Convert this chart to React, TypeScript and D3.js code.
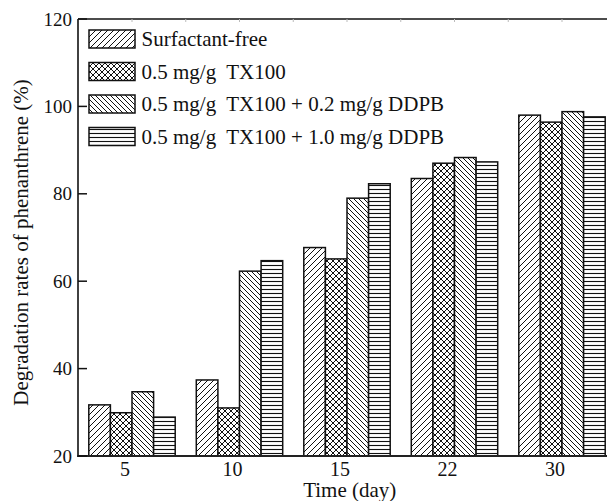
import React from 'react';
import * as d3 from 'd3';

const categories = ['5', '10', '15', '22', '30'];
const seriesNames = [
  'Surfactant-free',
  '0.5 mg/g  TX100',
  '0.5 mg/g  TX100 + 0.2 mg/g DDPB',
  '0.5 mg/g  TX100 + 1.0 mg/g DDPB',
];
const surfactantFree = [31.7, 37.4, 67.7, 83.5, 98.0];
const tx100 = [29.9, 31.0, 65.1, 87.0, 96.4];
const tx100Ddpb02 = [34.7, 62.3, 79.0, 88.3, 98.8];
const tx100Ddpb10 = [28.9, 64.7, 82.3, 87.3, 97.6];
const yTicks = [20, 40, 60, 80, 100, 120];

const seriesValues = [surfactantFree, tx100, tx100Ddpb02, tx100Ddpb10];
const patternIds = ['pSlash', 'pCross', 'pBack', 'pHoriz'];

const W = 607;
const H = 501;
const left = 78;
const right = 607;
const top = 19;
const bottom = 456;
const fontStyle = { fontFamily: 'Liberation Serif', whiteSpace: 'pre' as const };

export default function App() {
  const x = d3.scaleBand<string>().domain(categories).range([78.25, 615.75]).padding(0);
  const xs = d3.scaleBand<string>().domain(seriesNames).range([-43.2, 43.2]).padding(0);
  const y = d3.scaleLinear().domain([20, 120]).range([bottom, top]);
  const topTicks = d3.range(1, 10).map((k) => 78.25 + k * (x.step() / 2));

  return (
    <svg
      width={W}
      height={H}
      style={{ position: 'absolute', left: 0, top: 0, background: '#fff', fontFamily: 'Liberation Serif' }}
    >
      <defs>
        <pattern id="pSlash" patternUnits="userSpaceOnUse" width="6" height="6">
          <rect width="6" height="6" fill="#fff" />
          <path d="M-1,1 l2,-2 M0,6 l6,-6 M5,7 l2,-2" stroke="#111" strokeWidth="1" />
        </pattern>
        <pattern id="pCross" patternUnits="userSpaceOnUse" width="6" height="6">
          <rect width="6" height="6" fill="#fff" />
          <path d="M-1,1 l2,-2 M0,6 l6,-6 M5,7 l2,-2 M-1,5 l2,2 M0,0 l6,6 M5,-1 l2,2" stroke="#111" strokeWidth="1" />
        </pattern>
        <pattern id="pBack" patternUnits="userSpaceOnUse" width="5" height="5">
          <rect width="5" height="5" fill="#fff" />
          <path d="M-1,4 l2,2 M0,0 l5,5 M4,-1 l2,2" stroke="#111" strokeWidth="1" />
        </pattern>
        <pattern id="pHoriz" patternUnits="userSpaceOnUse" width="4" height="4">
          <rect width="4" height="4" fill="#fff" />
          <path d="M0,1.5 h4" stroke="#111" strokeWidth="1.1" />
        </pattern>
      </defs>

      {/* bars */}
      {categories.map((c, i) => (
        <g key={c}>
          {seriesNames.map((s, j) => {
            const cx = (x(c) as number) + x.bandwidth() / 2;
            const bx = cx + (xs(s) as number);
            const v = seriesValues[j][i];
            return (
              <rect
                key={s}
                x={bx}
                y={y(v)}
                width={xs.bandwidth()}
                height={y(20) - y(v)}
                fill={`url(#${patternIds[j]})`}
                stroke="#111"
                strokeWidth={1.5}
              />
            );
          })}
        </g>
      ))}

      {/* frame */}
      <line x1={left} x2={right} y1={top} y2={top} stroke="#111" strokeWidth={1.5} />
      {topTicks.map((t) => (
        <line key={t} x1={t} x2={t} y1={top} y2={top + 3} stroke="#bbb" strokeWidth={1} />
      ))}
      <line x1={left} x2={left} y1={top} y2={bottom} stroke="#111" strokeWidth={1.6} />
      <line x1={left - 1} x2={right} y1={bottom} y2={bottom} stroke="#222" strokeWidth={2.2} />

      {/* y ticks */}
      {yTicks.map((t) => (
        <g key={t}>
          <line x1={left} x2={left + 9} y1={y(t)} y2={y(t)} stroke="#111" strokeWidth={1.5} />
          <text x={72} y={y(t) + 6.5} textAnchor="end" style={fontStyle} fontSize={19} fill="#111">
            {t}
          </text>
        </g>
      ))}

      {/* x tick labels */}
      {categories.map((c) => (
        <text
          key={c}
          x={(x(c) as number) + x.bandwidth() / 2 - 7}
          y={476}
          textAnchor="middle"
          style={fontStyle}
          fontSize={20}
          fill="#111"
        >
          {c}
        </text>
      ))}

      {/* axis titles */}
      <text x={349.7} y={497} textAnchor="middle" style={fontStyle} fontSize={21} fill="#111">
        Time (day)
      </text>
      <text
        transform={`translate(27.5,242.5) rotate(-90)`}
        textAnchor="middle"
        style={fontStyle}
        fontSize={21}
        fill="#111"
      >
        Degradation rates of phenanthrene (%)
      </text>

      {/* legend */}
      {seriesNames.map((s, j) => {
        const cy = 39 + j * 32.5;
        return (
          <g key={s}>
            <rect x={89} y={cy - 9} width={46} height={18} fill={`url(#${patternIds[j]})`} stroke="#111" strokeWidth={1.5} />
            <text x={141.5} y={cy + 7} style={fontStyle} fontSize={21} fill="#111">
              {s}
            </text>
          </g>
        );
      })}
    </svg>
  );
}
